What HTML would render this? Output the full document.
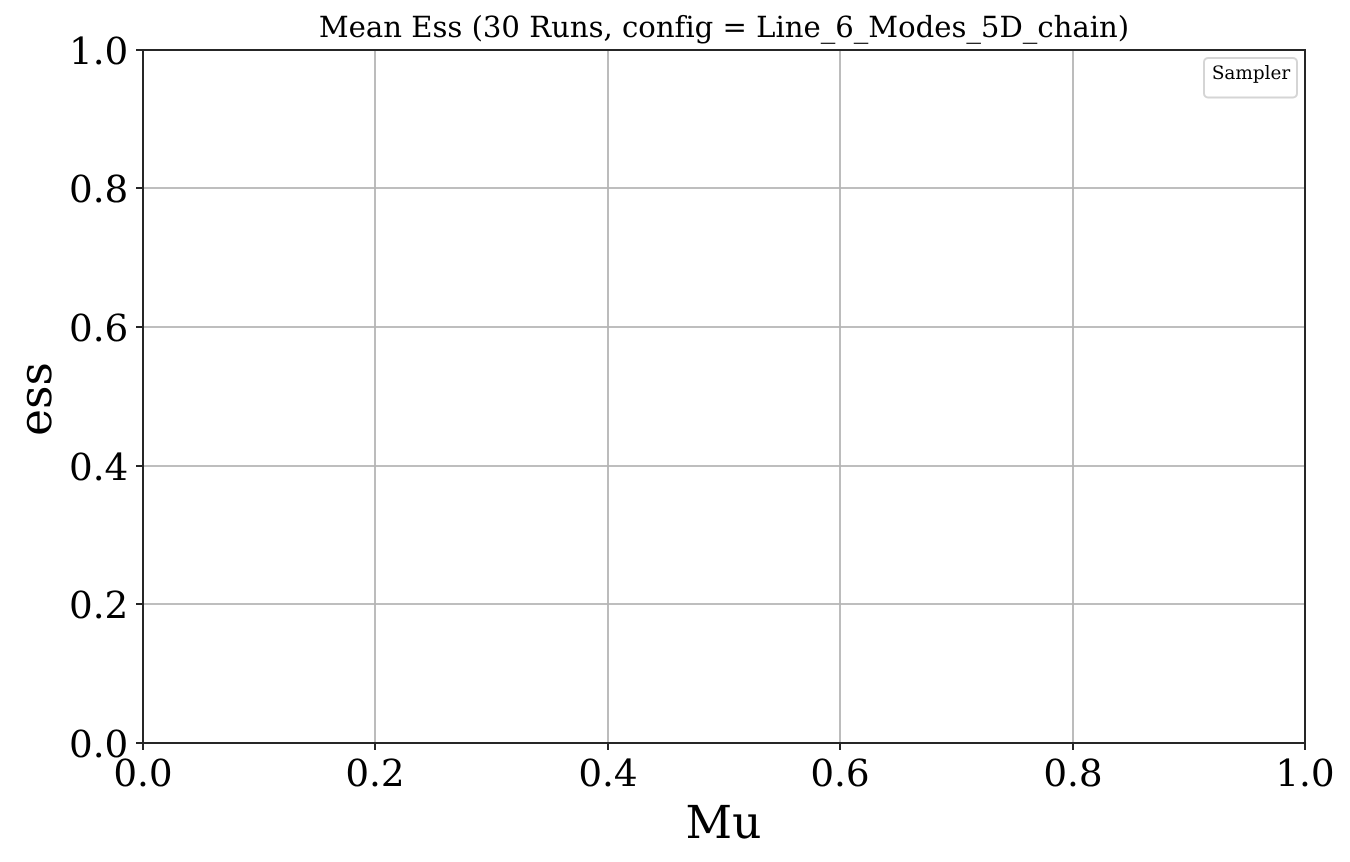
<!DOCTYPE html>
<html>
<head>
<meta charset="utf-8">
<style>
html,body{margin:0;padding:0;background:#fff;width:1350px;height:862px;overflow:hidden}
svg{display:block}
text{font-family:"DejaVu Serif","Liberation Serif",serif;fill:#000;font-variant-ligatures:none;text-rendering:geometricPrecision}
</style>
</head>
<body>
<svg id="chart" width="1350" height="862" viewBox="0 0 1350 862" xmlns="http://www.w3.org/2000/svg">
  <rect x="143" y="50" width="1162" height="693" fill="#fff"/>
  <g id="grid"></g>
  <g id="ticks"></g>
  <rect x="143" y="50" width="1162" height="693" fill="none" stroke="#262626" stroke-width="2"/>
  <text x="724" y="37" font-size="29.1" text-anchor="middle">Mean Ess (30 Runs, config = Line_6_Modes_5D_chain)</text>
  <text x="723.5" y="838" font-size="45.5" text-anchor="middle">Mu</text>
  <text transform="translate(51 399) rotate(-90)" font-size="45.5" text-anchor="middle">ess</text>
  <g>
    <rect x="1204" y="58" width="93" height="39.5" rx="4" fill="#fff" stroke="#d5d5d5" stroke-width="2"/>
    <text x="1251" y="79" font-size="18.4" text-anchor="middle">Sampler</text>
  </g>
</svg>
<script>
const xTickValues = [0, 0.2, 0.4, 0.6, 0.8, 1];
const yTickValues = [0, 0.2, 0.4, 0.6, 0.8, 1];
const xTickLabels = ["0.0", "0.2", "0.4", "0.6", "0.8", "1.0"];
const yTickLabels = ["0.0", "0.2", "0.4", "0.6", "0.8", "1.0"];

const NS = "http://www.w3.org/2000/svg";
const plot = {left: 143, right: 1305, top: 49.8, bottom: 742.8};
const xScale = v => Math.round(plot.left + v * (plot.right - plot.left));
const yScale = v => Math.round(plot.bottom - v * (plot.bottom - plot.top));
const gridG = document.getElementById("grid");
const ticksG = document.getElementById("ticks");
const axisBottom = yScale(0);
const axisTop = yScale(1);
const axisLeft = xScale(0);
const axisRight = xScale(1);

function line(parent, x1, y1, x2, y2, stroke, width) {
  const l = document.createElementNS(NS, "line");
  l.setAttribute("x1", x1);
  l.setAttribute("y1", y1);
  l.setAttribute("x2", x2);
  l.setAttribute("y2", y2);
  l.setAttribute("stroke", stroke);
  l.setAttribute("stroke-width", width);
  parent.appendChild(l);
  return l;
}
function label(parent, x, y, anchor, str) {
  const t = document.createElementNS(NS, "text");
  t.setAttribute("x", x);
  t.setAttribute("y", y);
  t.setAttribute("font-size", "37.3");
  t.setAttribute("text-anchor", anchor);
  t.textContent = str;
  parent.appendChild(t);
  return t;
}

xTickValues.forEach((v, i) => {
  const x = xScale(v);
  if (v > 0 && v < 1) {
    const g = line(gridG, x, axisTop, x, axisBottom, "#b4b4b4", 1.8);
    
    
  }
  const t = line(ticksG, x, axisBottom, x, axisBottom + 7, "#262626", 2);
  
  
  const l = label(ticksG, x, 786, "middle", xTickLabels[i]);
  
  
});

yTickValues.forEach((v, i) => {
  const y = yScale(v);
  if (v > 0 && v < 1) {
    const g = line(gridG, axisLeft, y, axisRight, y, "#b4b4b4", 1.8);
    
    
  }
  const t = line(ticksG, axisLeft - 7, y, axisLeft, y, "#262626", 2);
  
  
  const l = label(ticksG, 128.3, y + 14, "end", yTickLabels[i]);
  
  
});
</script>
</body>
</html>
